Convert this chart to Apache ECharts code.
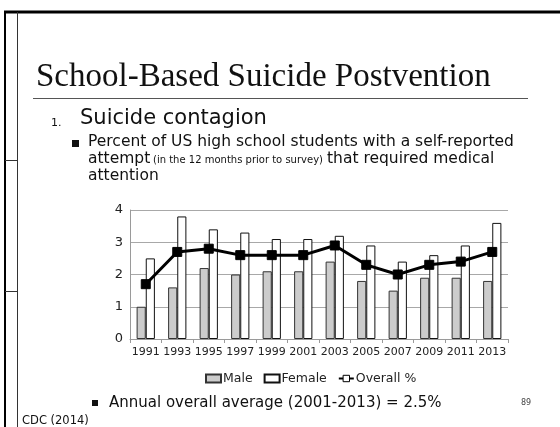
<!DOCTYPE html>
<html>
<head>
<meta charset="utf-8">
<script src="https://cdn.jsdelivr.net/npm/echarts@6/dist/echarts.min.js"></script>
<style>
  html, body { margin: 0; padding: 0; background: #fff; }
  #chart { width: 560px; height: 427px; }
</style>
</head>
<body>
<div id="chart"></div>
<script>
// Survey years
const years = ['1991', '1993', '1995', '1997', '1999', '2001', '2003', '2005', '2007', '2009', '2011', '2013'];
// Percent of students whose attempt required medical attention
const male = [1.0, 1.6, 2.2, 2.0, 2.1, 2.1, 2.4, 1.8, 1.5, 1.9, 1.9, 1.8];
const female = [2.5, 3.8, 3.4, 3.3, 3.1, 3.1, 3.2, 2.9, 2.4, 2.6, 2.9, 3.6];
const overall = [1.7, 2.7, 2.8, 2.6, 2.6, 2.6, 2.9, 2.3, 2.0, 2.3, 2.4, 2.7];
const yTicks = [0, 1, 2, 3, 4];

const sans = 'DejaVu Sans';
const ink = '#111';

// plain text block placed by its top-left corner
function label(x, y, text, size, extra) {
  return {
    type: 'text', x: x, y: y,
    style: Object.assign({ text: text, fontFamily: sans, fontSize: size, fill: ink }, extra || {})
  };
}

const chart = echarts.init(document.getElementById('chart'));

chart.setOption({
  animation: false,
  backgroundColor: '#fff',
  grid: { left: 130, right: 52, top: 210, bottom: 88, containLabel: false },
  legend: {
    top: 367,
    left: 200,
    itemWidth: 15,
    itemHeight: 8,
    itemGap: 11,
    textStyle: { fontFamily: sans, fontSize: 12.5, color: '#222', padding: [0, 0, 0, -3] },
    data: [
      { name: 'Male', icon: 'rect' },
      { name: 'Female', icon: 'rect' },
      { name: 'Overall %', itemStyle: { color: '#fff', borderColor: '#000', borderWidth: 1 } }
    ]
  },
  xAxis: {
    type: 'category',
    data: years,
    axisLine: { lineStyle: { color: '#9a9a9a', width: 1 } },
    axisTick: { show: true, length: 4, lineStyle: { color: '#9a9a9a' } },
    axisLabel: { interval: 0, fontFamily: sans, fontSize: 11, color: '#222', margin: 8 }
  },
  yAxis: {
    type: 'value',
    min: yTicks[0],
    max: yTicks[yTicks.length - 1],
    interval: 1,
    axisLine: { show: true, lineStyle: { color: '#9a9a9a' } },
    axisTick: { show: false },
    axisLabel: { fontFamily: sans, fontSize: 13, color: '#222', margin: 7 },
    splitLine: { lineStyle: { color: '#a8a8a8', width: 1 } }
  },
  series: [
    {
      name: 'Male',
      type: 'bar',
      data: male,
      barWidth: '29%',
      barGap: '0%',
      itemStyle: { color: '#cccccc', borderColor: '#333', borderWidth: 1 }
    },
    {
      name: 'Female',
      type: 'bar',
      data: female,
      barWidth: '29%',
      itemStyle: { color: '#ffffff', borderColor: '#111', borderWidth: 1 }
    },
    {
      name: 'Overall %',
      type: 'line',
      data: overall,
      symbol: 'rect',
      symbolSize: 9,
      lineStyle: { color: '#000', width: 3 },
      itemStyle: { color: '#000', borderColor: '#000' },
      z: 5
    }
  ],
  graphic: [
    // slide frame
    { type: 'line', shape: { x1: 4, y1: 12, x2: 560, y2: 12 }, style: { stroke: '#000', lineWidth: 3 } },
    { type: 'line', shape: { x1: 5, y1: 11, x2: 5, y2: 427 }, style: { stroke: '#000', lineWidth: 2 } },
    { type: 'line', shape: { x1: 17.5, y1: 12, x2: 17.5, y2: 427 }, style: { stroke: '#333', lineWidth: 1 } },
    { type: 'line', shape: { x1: 5, y1: 160.5, x2: 17, y2: 160.5 }, style: { stroke: '#333', lineWidth: 1 } },
    { type: 'line', shape: { x1: 5, y1: 291.5, x2: 17, y2: 291.5 }, style: { stroke: '#333', lineWidth: 1 } },
    // title and underline
    label(36, 61, 'School-Based Suicide Postvention', 33, { fontFamily: 'Liberation Serif', fill: '#111' }),
    { type: 'line', shape: { x1: 33, y1: 98.5, x2: 528, y2: 98.5 }, style: { stroke: '#555', lineWidth: 1 } },
    // heading
    label(51, 118, '1.', 11),
    label(80, 108, 'Suicide contagion', 21),
    // first bullet
    { type: 'rect', shape: { x: 72, y: 140, width: 7, height: 7 }, style: { fill: ink } },
    label(88, 134, 'Percent of US high school students with a self-reported', 15.5),
    label(88, 151, 'attempt', 15.5),
    label(153, 155.5, '(in the 12 months prior to survey)', 10),
    label(327, 151, 'that required medical', 15.5),
    label(88, 168, 'attention', 15.5),
    // footer
    { type: 'rect', shape: { x: 92, y: 400, width: 6, height: 6 }, style: { fill: ink } },
    label(109, 395.5, 'Annual overall average (2001-2013) = 2.5%', 15),
    label(521, 399, '89', 8, { fill: '#444' }),
    label(22, 415.5, 'CDC (2014)', 11.5)
  ]
});
</script>
</body>
</html>
